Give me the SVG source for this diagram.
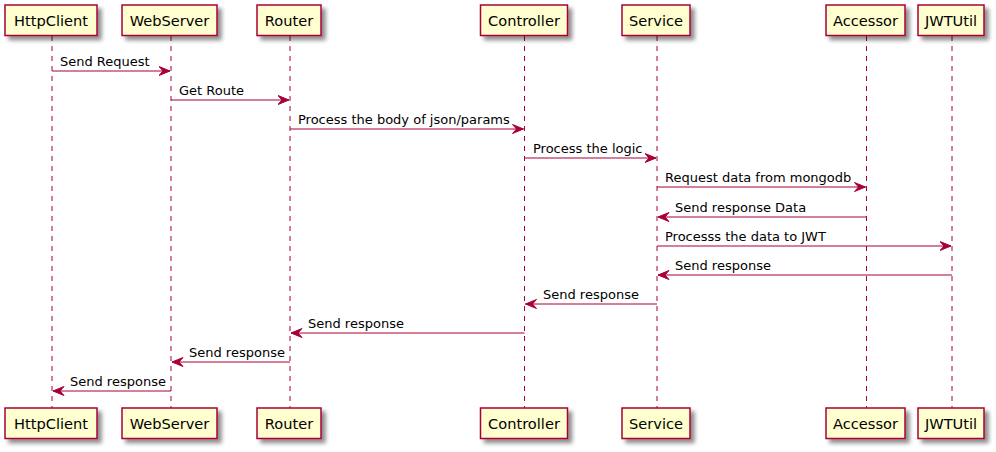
<svg xmlns="http://www.w3.org/2000/svg" width="996" height="452" viewBox="0 0 996 452">
<defs>
<filter id="sh" x="-20%" y="-20%" width="160%" height="180%">
<feGaussianBlur in="SourceAlpha" stdDeviation="2"/>
<feOffset dx="4" dy="4" result="b"/>
<feComponentTransfer><feFuncA type="linear" slope="0.45"/></feComponentTransfer>
<feMerge><feMergeNode/><feMergeNode in="SourceGraphic"/></feMerge>
</filter>
<marker id="ah" markerWidth="13" markerHeight="11" refX="11.5" refY="5" orient="auto-start-reverse" markerUnits="userSpaceOnUse">
<polygon points="0.5,0.5 11.5,5 0.5,9.5 4.5,5" fill="#A80036" stroke="#A80036" stroke-width="1"/>
</marker>
</defs>
<style>
.box{fill:#FEFECE;stroke:#A80036;stroke-width:1.5;filter:url(#sh)}
.life{stroke:#A80036;stroke-width:1;stroke-dasharray:5,5;fill:none}
.pt{font-family:"DejaVu Sans",sans-serif;font-size:14.6px;fill:#000;text-anchor:middle}
.msg{stroke:#A80036;stroke-width:1;fill:none;marker-end:url(#ah)}
.mt{font-family:"DejaVu Sans",sans-serif;font-size:13px;fill:#000}
</style>
<rect width="996" height="452" fill="#FFFFFF"/>
<g id="lifelines">
<line class="life" x1="52" y1="36" x2="52" y2="408"/>
<line class="life" x1="171" y1="36" x2="171" y2="408"/>
<line class="life" x1="290" y1="36" x2="290" y2="408"/>
<line class="life" x1="524.5" y1="36" x2="524.5" y2="408"/>
<line class="life" x1="657" y1="36" x2="657" y2="408"/>
<line class="life" x1="866.5" y1="36" x2="866.5" y2="408"/>
<line class="life" x1="952" y1="36" x2="952" y2="408"/>
</g>
<g id="HttpClient">
<rect class="box" x="5" y="5" width="92" height="30.5"/><text class="pt" x="51" y="25.5">HttpClient</text>
<rect class="box" x="5" y="408" width="92" height="30.5"/><text class="pt" x="51" y="428.5">HttpClient</text>
</g>
<g id="WebServer">
<rect class="box" x="122" y="5" width="95" height="30.5"/><text class="pt" x="169.5" y="25.5">WebServer</text>
<rect class="box" x="122" y="408" width="95" height="30.5"/><text class="pt" x="169.5" y="428.5">WebServer</text>
</g>
<g id="Router">
<rect class="box" x="257" y="5" width="64" height="30.5"/><text class="pt" x="289" y="25.5">Router</text>
<rect class="box" x="257" y="408" width="64" height="30.5"/><text class="pt" x="289" y="428.5">Router</text>
</g>
<g id="Controller">
<rect class="box" x="480.5" y="5" width="87" height="30.5"/><text class="pt" x="524" y="25.5">Controller</text>
<rect class="box" x="480.5" y="408" width="87" height="30.5"/><text class="pt" x="524" y="428.5">Controller</text>
</g>
<g id="Service">
<rect class="box" x="622" y="5" width="68" height="30.5"/><text class="pt" x="656" y="25.5">Service</text>
<rect class="box" x="622" y="408" width="68" height="30.5"/><text class="pt" x="656" y="428.5">Service</text>
</g>
<g id="Accessor">
<rect class="box" x="826" y="5" width="79" height="30.5"/><text class="pt" x="865.5" y="25.5">Accessor</text>
<rect class="box" x="826" y="408" width="79" height="30.5"/><text class="pt" x="865.5" y="428.5">Accessor</text>
</g>
<g id="JWTUtil">
<rect class="box" x="918" y="5" width="66" height="30.5"/><text class="pt" x="951" y="25.5">JWTUtil</text>
<rect class="box" x="918" y="408" width="66" height="30.5"/><text class="pt" x="951" y="428.5">JWTUtil</text>
</g>
<g id="connectors">
<line class="msg" x1="52" y1="71" x2="170" y2="71"/><text class="mt" x="60" y="66">Send Request</text>
<line class="msg" x1="171" y1="100" x2="289" y2="100"/><text class="mt" x="179" y="95">Get Route</text>
<line class="msg" x1="290" y1="129" x2="523.5" y2="129"/><text class="mt" x="298" y="124">Process the body of json/params</text>
<line class="msg" x1="524.5" y1="158" x2="656" y2="158"/><text class="mt" x="533" y="153">Process the logic</text>
<line class="msg" x1="657" y1="187" x2="865.5" y2="187"/><text class="mt" x="665" y="182">Request data from mongodb</text>
<line class="msg" x1="866.5" y1="217" x2="658" y2="217"/><text class="mt" x="675" y="212">Send response Data</text>
<line class="msg" x1="657" y1="246" x2="951" y2="246"/><text class="mt" x="665" y="241">Processs the data to JWT</text>
<line class="msg" x1="952" y1="275" x2="658" y2="275"/><text class="mt" x="675" y="270">Send response</text>
<line class="msg" x1="657" y1="304" x2="525.5" y2="304"/><text class="mt" x="543" y="299">Send response</text>
<line class="msg" x1="524.5" y1="333" x2="291" y2="333"/><text class="mt" x="308" y="328">Send response</text>
<line class="msg" x1="290" y1="362" x2="172" y2="362"/><text class="mt" x="189" y="357">Send response</text>
<line class="msg" x1="171" y1="391" x2="53" y2="391"/><text class="mt" x="70" y="386">Send response</text>
</g>
</svg>
